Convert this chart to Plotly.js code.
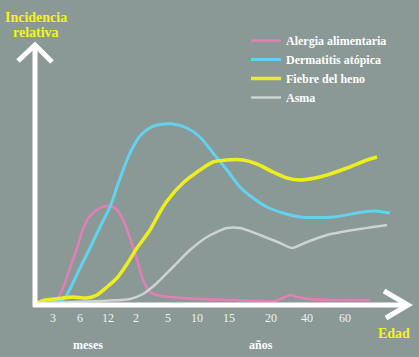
<!DOCTYPE html>
<html>
<head>
<meta charset="utf-8">
<script src="https://cdn.plot.ly/plotly-3.0.1.min.js"></script>
<style>html,body{margin:0;padding:0;background:#8a9896;}</style>
</head>
<body>
<div id="chart" style="width:419px;height:357px;"></div>
<script>
// Age axis positions (arbitrary layout units along the age scale) and tick labels
const tickPositions = [53, 80, 108, 136, 168, 197, 229, 271, 307, 345];
const tickLabels = ['3', '6', '12', '2', '5', '10', '15', '20', '40', '60'];

// Alergia alimentaria
const alergiaX = [37, 50, 57, 63, 70, 77, 83, 90, 100, 107, 113, 118, 124, 130, 136, 143, 150, 157, 170, 200, 233, 260, 275, 283, 290, 297, 310, 340, 370];
const alergiaY = [1, 2, 3, 8.5, 18.5, 28.5, 38, 44.5, 48.5, 49.5, 49, 47, 41.5, 33.5, 24.5, 12.5, 6.5, 5, 4, 3, 2.5, 2, 2, 3.5, 5, 4, 3, 2.5, 2.5];

// Dermatitis atópica
const dermatitisX = [37, 50, 60, 65, 70, 80, 90, 100, 110, 117, 122, 127, 133, 140, 148, 157, 173, 187, 200, 213, 227, 240, 253, 267, 283, 300, 333, 363, 375, 390];
const dermatitisY = [1, 1.5, 2, 3.5, 8, 18.5, 28.5, 39, 49, 59, 66, 72.5, 79, 84.5, 88, 90, 90.5, 88.5, 84, 76, 67.5, 59, 53.5, 49, 46, 44, 44, 46.5, 47, 46];

// Fiebre del heno
const fiebreX = [37, 45, 55, 63, 73, 87, 97, 107, 117, 127, 137, 150, 160, 167, 183, 200, 213, 227, 243, 257, 273, 287, 300, 315, 327, 347, 367, 377];
const fiebreY = [1, 2.5, 3, 3.5, 4, 3.5, 5, 9, 13.5, 20.5, 28.5, 37.5, 46.5, 52, 61, 67.5, 71.5, 72.5, 72.5, 70.5, 66.5, 63.5, 62.5, 63.5, 65, 68.5, 72.5, 74];

// Asma
const asmaX = [40, 70, 100, 130, 143, 157, 173, 190, 207, 227, 240, 260, 280, 292, 307, 327, 353, 387];
const asmaY = [1, 1.5, 2, 3, 5.5, 11, 19, 27.5, 34, 38.5, 38.5, 35, 31, 28.5, 31.5, 35, 37.5, 40];

const W = 419, H = 357;
const M = {l: 35, r: 14, t: 55, b: 52};
// helper: pixel position -> paper coordinates (for decorative arrows)
function px(x) { return (x - M.l) / (W - M.l - M.r); }
function py(y) { return (H - M.b - y) / (H - M.t - M.b); }

const serif = 'Liberation Serif, DejaVu Serif, serif';

function trace(name, x, y, color, width) {
  return {type: 'scatter', mode: 'lines', name: name, x: x, y: y,
    line: {color: color, width: width, shape: 'spline', smoothing: 0.7}};
}

const data = [
  trace('Alergia alimentaria', alergiaX, alergiaY, '#e47fb6', 2.5),
  trace('Dermatitis atópica', dermatitisX, dermatitisY, '#62d2ef', 3),
  trace('Fiebre del heno', fiebreX, fiebreY, '#ecef1c', 3.5),
  trace('Asma', asmaX, asmaY, '#cdd3d1', 2.5)
];

const white = '#ffffff';
const shapes = [
  // vertical arrow
  {type: 'line', xref: 'paper', yref: 'paper', x0: px(35), y0: py(307), x1: px(35), y1: py(46), line: {color: white, width: 5}},
  {type: 'path', xref: 'paper', yref: 'paper', path: 'M' + px(18) + ',' + py(61) + ' L' + px(35) + ',' + py(45) + ' L' + px(52) + ',' + py(62), line: {color: white, width: 5}},
  // horizontal arrow
  {type: 'line', xref: 'paper', yref: 'paper', x0: px(33), y0: py(305), x1: px(407), y1: py(305), line: {color: white, width: 5}},
  {type: 'path', xref: 'paper', yref: 'paper', path: 'M' + px(384) + ',' + py(291) + ' L' + px(408) + ',' + py(305) + ' L' + px(386) + ',' + py(318), line: {color: white, width: 5}}
];

const yellow = '#f5f515';
const annotations = [
  {xref: 'paper', yref: 'paper', x: px(36), y: py(17), text: 'Incidencia', showarrow: false, xanchor: 'center', yanchor: 'middle',
    font: {family: serif, size: 14, color: yellow, weight: 'bold'}},
  {xref: 'paper', yref: 'paper', x: px(36), y: py(33), text: 'relativa', showarrow: false, xanchor: 'center', yanchor: 'middle',
    font: {family: serif, size: 14, color: yellow, weight: 'bold'}},
  {xref: 'paper', yref: 'paper', x: px(394), y: py(333), text: 'Edad', showarrow: false, xanchor: 'center', yanchor: 'middle',
    font: {family: serif, size: 14, color: yellow, weight: 'bold'}},
  {xref: 'paper', yref: 'paper', x: px(88), y: py(345), text: 'meses', showarrow: false, xanchor: 'center', yanchor: 'middle',
    font: {family: serif, size: 12, color: white, weight: 'bold'}},
  {xref: 'paper', yref: 'paper', x: px(261), y: py(345), text: 'años', showarrow: false, xanchor: 'center', yanchor: 'middle',
    font: {family: serif, size: 12, color: white, weight: 'bold'}}
];

const layout = {
  width: W, height: H,
  margin: M,
  paper_bgcolor: '#8a9896',
  plot_bgcolor: '#8a9896',
  showlegend: true,
  legend: {
    x: px(246), y: py(26), xanchor: 'left', yanchor: 'top',
    bgcolor: 'rgba(0,0,0,0)', itemwidth: 30,
    font: {family: serif, size: 12, color: white, weight: 'bold'},
    itemclick: false, itemdoubleclick: false
  },
  xaxis: {
    range: [35, 405], showgrid: false, zeroline: false, showline: false,
    tickmode: 'array', tickvals: tickPositions, ticktext: tickLabels, ticks: '',
    tickfont: {family: serif, size: 12, color: '#f2f2f2'}, ticklabelstandoff: 4,
    fixedrange: true
  },
  yaxis: {
    range: [0, 125], showgrid: false, zeroline: false, showline: false,
    showticklabels: false, ticks: '', fixedrange: true
  },
  shapes: shapes,
  annotations: annotations
};

Plotly.newPlot('chart', data, layout, {displayModeBar: false, staticPlot: true});
</script>
</body>
</html>
